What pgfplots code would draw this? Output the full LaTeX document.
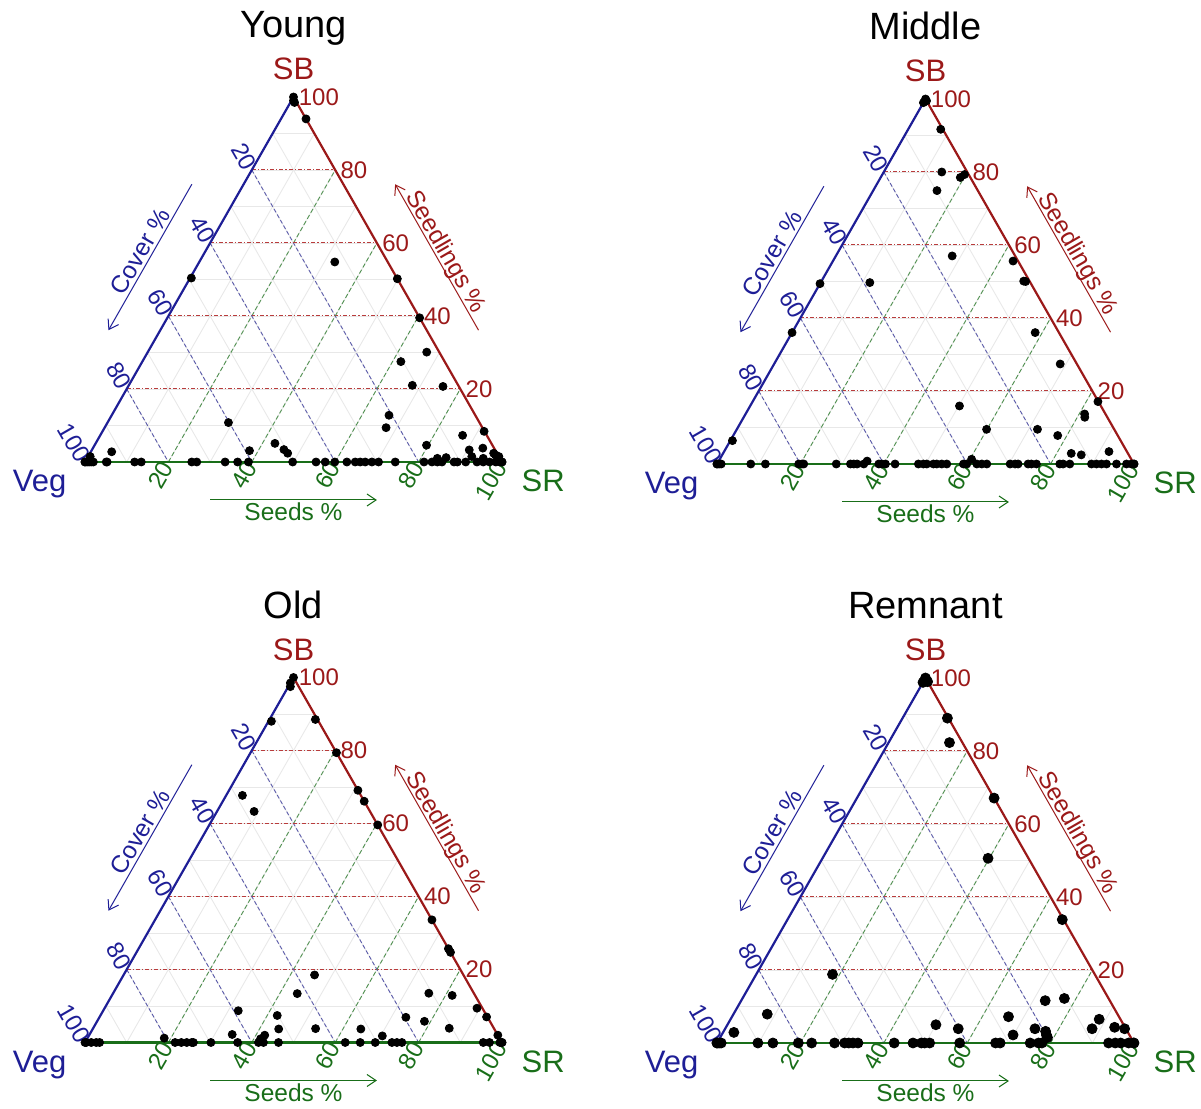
\documentclass[border=0pt]{standalone}
\usepackage{pgfplots}
\pgfplotsset{compat=1.18}
\usepackage{pgfplotstable}
\usepackage{fontspec}
\setmainfont{Liberation Sans}
\usetikzlibrary{arrows.meta}

\definecolor{cblue}{RGB}{30,30,150}
\definecolor{cred}{RGB}{155,25,25}
\definecolor{cgreen}{RGB}{25,110,25}
\definecolor{gred}{RGB}{185,60,60}
\definecolor{gblue}{RGB}{90,90,170}
\definecolor{ggreen}{RGB}{80,145,80}

\newcommand\tickfont{\fontsize{12}{12}\selectfont}
\newcommand\vertfont{\fontsize{15.5}{16}\selectfont}
\newcommand\titlefont{\fontsize{19}{20}\selectfont}
\newcommand\labfont{\fontsize{12.25}{13}\selectfont}

\pgfplotsset{tern/.style={x=208.5pt, y=182.5pt, xmin=0, xmax=1, ymin=0, ymax=1,
  axis lines=none, xtick=\empty, ytick=\empty, clip=false, anchor=south west}}

\tikzset{arr/.style={line width=0.5pt, -{Straight Barb[length=4.5pt,width=6pt]}}}

\newcommand\ternframe{%
  \pgfplotsinvokeforeach{10,20,30,40,50,60,70,80,90}{%
    \draw[gray!18, line width=0.45pt] (axis cs:{##1/200},{##1/100}) -- (axis cs:{1-##1/200},{##1/100});
    \draw[gray!18, line width=0.45pt] (axis cs:{##1/100},0) -- (axis cs:{0.5+##1/200},{1-##1/100});
    \draw[gray!18, line width=0.45pt] (axis cs:{(100-##1)/200},{(100-##1)/100}) -- (axis cs:{(100-##1)/100},0);
  }
  \pgfplotsinvokeforeach{20,40,60,80}{%
    \draw[gred, line width=0.5pt, dash pattern=on 2pt off 1pt on 0.6pt off 1pt] (axis cs:{##1/200},{##1/100}) -- (axis cs:{1-##1/200},{##1/100});
    \draw[ggreen, line width=0.45pt, dash pattern=on 2.2pt off 1.3pt] (axis cs:{##1/100},0) -- (axis cs:{0.5+##1/200},{1-##1/100});
    \draw[gblue, line width=0.45pt, dash pattern=on 2pt off 1.2pt] (axis cs:{(100-##1)/200},{(100-##1)/100}) -- (axis cs:{(100-##1)/100},0);
  }
  \draw[cgreen, line width=1.1pt] (axis cs:0,0) -- (axis cs:1,0);
  \draw[cblue, line width=1.1pt] (axis cs:0,0) -- (axis cs:0.5,1);
  \draw[cred, line width=1.1pt] (axis cs:1,0) -- (axis cs:0.5,1);
  \pgfplotsinvokeforeach{20,40,60,80,100}{%
    \node[anchor=west, inner sep=0pt, xshift=2.5pt, text=cred, font=\tickfont] at (axis cs:{1-##1/200},{##1/100}) {##1};
    \node[anchor=east, rotate=-60, inner sep=0.8pt, text=cblue, font=\tickfont] at (axis cs:{(100-##1)/200},{(100-##1)/100}) {##1};
    \node[anchor=east, rotate=60, inner sep=0.8pt, text=cgreen, font=\tickfont] at (axis cs:{##1/100},0) {##1};
  }
  \node[anchor=base, text=cred, font=\vertfont, inner sep=0pt] at (axis cs:0.5,1.047) {SB};
  \node[anchor=base east, text=cblue, font=\vertfont, inner sep=0pt] at (axis cs:-0.044,-0.081) {Veg};
  \node[anchor=base west, text=cgreen, font=\vertfont, inner sep=0pt] at (axis cs:1.046,-0.081) {SR};
  \draw[cgreen, arr] ([yshift=-19pt]axis cs:0.3,0) -- ([yshift=-19pt]axis cs:0.7,0);
  \node[anchor=base, text=cgreen, font=\labfont, inner sep=0pt] at ([yshift=-29.5pt]axis cs:0.5,0) {Seeds \%};
  \draw[cblue, arr] ([shift={(-19.55pt,11.14pt)}]axis cs:0.35,0.7) -- ([shift={(-19.55pt,11.14pt)}]axis cs:0.15,0.3);
  \node[anchor=base, rotate=60, text=cblue, font=\labfont, inner sep=0pt] at ([shift={(-20.9pt,11.9pt)}]axis cs:0.25,0.5) {Cover \%};
  \draw[cred, arr] ([shift={(19.55pt,11.14pt)}]axis cs:0.85,0.3) -- ([shift={(19.55pt,11.14pt)}]axis cs:0.65,0.7);
  \node[anchor=base, rotate=-60, text=cred, font=\labfont, inner sep=0pt] at ([shift={(20.9pt,11.9pt)}]axis cs:0.75,0.5) {Seedlings \%};
}

% columns: seeds (%), seedlings (%), cover (%)
\pgfplotstableread{
seeds seedlings cover
0 100 0
0.5 99 0.5
1 98.5 0.5
6 94 0
32.5 54.8 12.7
0.3 50.4 49.3
49.8 50.2 0
60.5 39.5 0
66.9 30.1 3
62 27.5 10.5
68 21 11
75.5 20.7 3.8
29 10.8 60.2
66.5 12.8 20.7
67.5 9.4 23.1
79.6 4.6 15.8
86.9 7.3 5.8
91.5 8.4 0.1
90.5 3.3 6.2
93.5 3.8 2.7
43 5.1 51.9
46 3.4 50.6
47.4 2.4 50.2
37.9 3.1 59
5 2.8 92.2
96.8 2.4 0.8
97.5 1.9 0.6
98.5 1.5 0
95 1 4
84 1 15
86 1.2 12.8
92 1.5 6.5
0.5 1.5 98
0 0 100
0 0 100
0.5 0 99.5
1 0 99
1.5 0 98.5
2 0 98
5.1 0 94.9
5.3 0 94.7
11.9 0 88.1
13.5 0 86.5
25.6 0 74.4
26.8 0 73.2
33.6 0 66.4
36.6 0 63.4
39.2 0 60.8
49.8 0 50.2
55.4 0 44.6
57.6 0 42.4
59.9 0 40.1
62.8 0 37.2
64.8 0 35.2
66 0 34
67.2 0 32.8
68.8 0 31.2
70.4 0 29.6
74.4 0 25.6
81.3 0 18.7
83.2 0 16.8
84.5 0 15.5
85.6 0 14.4
88.5 0 11.5
89.3 0 10.7
91.3 0 8.7
94 0 6
95.5 0 4.5
97 0 3
98.5 0 1.5
99.5 0 0.5
100 0 0
100 0 0
}\youngdata

\pgfplotstableread{
seeds seedlings cover
0 100 0
0.5 99.5 0
0 99 1
7.8 91.7 0.5
13.9 80 6.1
19.7 79.3 1
19.1 78.5 2.4
15.3 74.9 9.8
27.9 57 15.1
11.8 49.7 38.5
0 49.4 50.6
43.2 55.6 1.2
48.5 50.1 1.4
49 50 1
0 36 64
58.3 36 5.7
68.6 27.4 4
82.8 17.1 0.1
81.3 13.7 5
81.8 12.8 5.4
50.2 15.9 33.9
59.9 9.5 30.6
72.1 9.5 18.4
77.8 7.8 14.4
83.5 2.9 13.6
86.1 2.5 11.4
92.3 3.4 4.3
0.5 6.4 93.1
60.4 1.3 38.3
35.6 0.8 63.6
0 0 100
0 0 100
0.5 0 99.5
1 0 99
8.1 0 91.9
11.6 0 88.4
19.6 0 80.4
20.4 0 79.6
20.8 0 79.2
28.6 0 71.4
32 0 68
32.8 0 67.2
33.6 0 66.4
35.2 0 64.8
38.8 0 61.2
39.5 0 60.5
40.4 0 59.6
42.7 0 57.3
48.3 0 51.7
49.5 0 50.5
50.3 0 49.7
51.9 0 48.1
52.7 0 47.3
53.9 0 46.1
55.1 0 44.9
59.1 0 40.9
59.9 0 40.1
62.3 0 37.7
63.5 0 36.5
64.7 0 35.3
70.3 0 29.7
71.5 0 28.5
72.2 0 27.8
74.6 0 25.4
75.4 0 24.6
76.6 0 23.4
82.2 0 17.8
83 0 17
84.6 0 15.4
89.8 0 10.2
91 0 9
92.2 0 7.8
93.4 0 6.6
95.8 0 4.2
98.2 0 1.8
99.4 0 0.6
100 0 0
100 0 0
}\middledata

\pgfplotstableread{
seeds seedlings cover
0 100 0
0 98.5 1.5
0.5 97.5 2
0.7 88 11.3
11 88.5 0.5
20.6 79.4 0
3.9 67.7 28.4
8.9 63.3 27.8
30.9 69.1 0
33.9 66.1 0
40.4 59.6 0
66.4 33.6 0
74.3 25.7 0
75.3 24.7 0
45.8 18.5 35.7
44.2 13.4 42.4
75.7 13.5 10.8
81.6 12.9 5.5
89.3 9.4 1.3
92.8 7 0.2
32.4 8.7 58.9
42.4 7.4 50.2
73.5 6.9 19.6
78.5 5.8 15.7
85.4 3.9 10.7
44.6 3.7 51.7
53.4 3.8 42.8
64.3 3.7 32
34.2 2.2 63.6
42.1 2 55.9
41.6 1 57.4
70.4 1.8 27.8
18.4 1.2 80.4
98 2 0
0 0 100
0.3 0 99.7
1.5 0 98.5
2.7 0 97.3
3.5 0 96.5
21.6 0 78.4
23.1 0 76.9
24.4 0 75.6
25.6 0 74.4
26 0 74
30.2 0 69.8
36.6 0 63.4
41.6 0 58.4
42.8 0 57.2
46.4 0 53.6
62.4 0 37.6
66 0 34
69.6 0 30.4
73.6 0 26.4
74.8 0 25.2
76 0 24
95.5 0 4.5
97 0 3
99.5 0 0.5
100 0 0
100 0 0
}\olddata

\pgfplotstableread{
seeds seedlings cover
0 100 0
0.5 99.3 0.2
0 98.8 1.2
1 99 0
10.75 89 0.25
14.6 82.3 3.1
32.9 67.1 0
39.7 50.6 9.7
65.9 33.8 0.3
18.3 18.8 62.9
72.9 11.6 15.5
77.2 12.2 10.6
8.1 7.9 84
66.3 7.2 26.5
88.4 6.5 5.1
50 5 45
55.9 3.9 40.2
74.3 3.9 21.8
88 3.9 8.1
77.2 3.2 19.6
77.9 2.2 19.9
69.9 2.2 27.9
2.6 2.9 94.5
93.2 4.3 2.5
95.8 3.9 0.3
78.5 1.5 20
0 0 100
0 0 100
0.5 0 99.5
1 0 99
9.8 0 90.2
13.4 0 86.6
19.5 0 80.5
22.7 0 77.3
28.2 0 71.8
30.6 0 69.4
31.6 0 68.4
32.6 0 67.4
33.8 0 66.2
42.5 0 57.5
47 0 53
49 0 51
49.8 0 50.2
51 0 49
58.2 0 41.8
66.8 0 33.2
67.9 0 32.1
75.1 0 24.9
77.1 0 22.9
77.9 0 22.1
93.9 0 6.1
95.5 0 4.5
96.8 0 3.2
98.7 0 1.3
99.9 0 0.1
100 0 0
}\remnantdata

\begin{document}
\begin{tikzpicture}
\path[use as bounding box] (0,0) rectangle (600.5pt,554.5pt);

\begin{axis}[tern, at={(42.5pt,323.5pt)}]
  \ternframe
  \node[anchor=base, font=\titlefont, inner sep=0pt] at (axis cs:0.5,1.162) {Young};
  \addplot[only marks, mark=*, mark size=2pt, black] table[x expr=\thisrow{seeds}/100+\thisrow{seedlings}/200, y expr=\thisrow{seedlings}/100] {\youngdata};
\end{axis}

\begin{axis}[tern, at={(358.5pt,322.5pt)}]
  \ternframe
  \node[anchor=base, font=\titlefont, inner sep=0pt] at (axis cs:0.5,1.162) {Middle};
  \addplot[only marks, mark=*, mark size=2pt, black] table[x expr=\thisrow{seeds}/100+\thisrow{seedlings}/200, y expr=\thisrow{seedlings}/100] {\middledata};
\end{axis}

\begin{axis}[tern, at={(42.5pt,33.25pt)}]
  \ternframe
  \node[anchor=base, font=\titlefont, inner sep=0pt] at (axis cs:0.5,1.162) {Old};
  \addplot[only marks, mark=*, mark size=2pt, black] table[x expr=\thisrow{seeds}/100+\thisrow{seedlings}/200, y expr=\thisrow{seedlings}/100] {\olddata};
\end{axis}

\begin{axis}[tern, at={(358.5pt,33pt)}]
  \ternframe
  \node[anchor=base, font=\titlefont, inner sep=0pt] at (axis cs:0.5,1.162) {Remnant};
  \addplot[only marks, mark=*, mark size=2.5pt, black] table[x expr=\thisrow{seeds}/100+\thisrow{seedlings}/200, y expr=\thisrow{seedlings}/100] {\remnantdata};
\end{axis}
\end{tikzpicture}
\end{document}
